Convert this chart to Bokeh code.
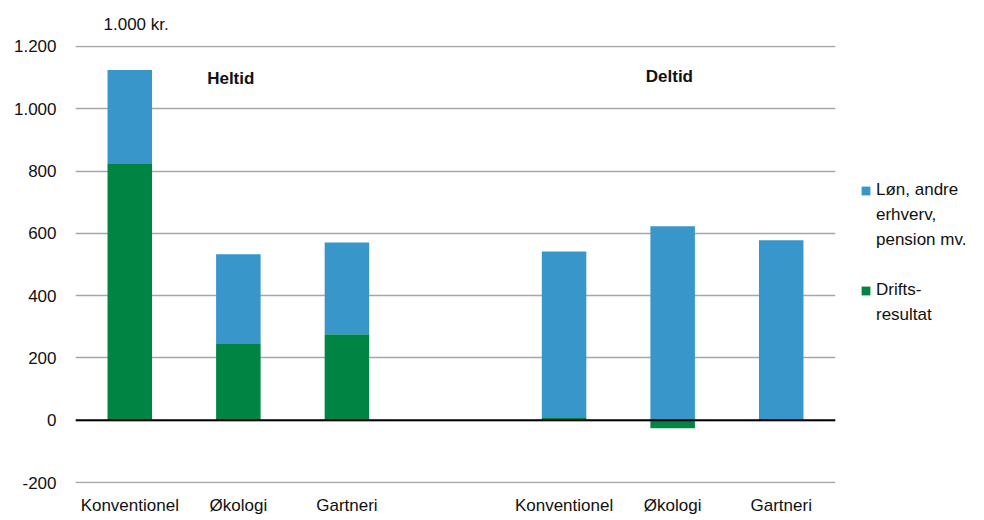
from bokeh.plotting import figure
from bokeh.models import (Range1d, FixedTicker, CustomJSTickFormatter, Label, Legend,
                          LegendItem, Span, ColumnDataSource, Title)
from bokeh.embed import file_html
from bokeh.resources import INLINE

# ---- data ----
groups = ["Heltid", "Heltid", "Heltid", "", "Deltid", "Deltid", "Deltid"]
categories = ["Konventionel", "Økologi", "Gartneri", "", "Konventionel", "Økologi", "Gartneri"]
drift = [825, 247, 276, None, 10, -26, 3]
loen = [299, 286, 295, None, 532, 623, 575]
series_lines = [["Løn, andre", "erhverv,", "pension mv."], ["Drifts-", "resultat"]]
y_ticks = [-200, 0, 200, 400, 600, 800, 1000, 1200]
unit_label = "1.000 kr."

BLUE = "#3996CA"
GREEN = "#008444"
FONT = "Liberation Sans"
TXT = "#111111"

idx = [i for i, c in enumerate(categories) if c]
g_top = [drift[i] for i in idx]
b_bottom = [max(drift[i], 0) for i in idx]
b_top = [max(drift[i], 0) + loen[i] for i in idx]

src = ColumnDataSource(dict(x=idx, g_top=g_top, g_bottom=[0] * len(idx),
                            b_bottom=b_bottom, b_top=b_top))

p = figure(frame_width=760, frame_height=438, output_backend="svg", toolbar_location=None,
           x_range=Range1d(-0.5, len(categories) - 0.5),
           y_range=Range1d(min(y_ticks) - 3, max(y_ticks) + 3),
           min_border_left=75, min_border_right=133, min_border_top=45, min_border_bottom=28)
p.outline_line_color = None
p.background_fill_color = "white"

t = Title(text=unit_label, align="left", offset=28, standoff=24,
          text_font=FONT, text_font_size="17px", text_font_style="normal", text_color=TXT)
p.add_layout(t, "above")

bw = 0.41
rg = p.vbar(x="x", bottom="g_bottom", top="g_top", width=bw, source=src,
            fill_color=GREEN, line_color=None)
rb = p.vbar(x="x", bottom="b_bottom", top="b_top", width=bw, source=src,
            fill_color=BLUE, line_color=None)
# invisible renderer used for continuation lines of the legend labels
rinv = p.vbar(x="x", bottom="g_bottom", top="g_bottom", width=bw, source=src,
              fill_alpha=0, line_alpha=0)

# axes
p.xaxis.ticker = FixedTicker(ticks=idx)
p.xaxis.major_label_overrides = {i: categories[i] for i in idx}
p.xaxis.axis_line_color = None
p.xaxis.major_tick_line_color = None
p.xaxis.minor_tick_line_color = None
p.xaxis.major_label_text_font = FONT
p.xaxis.major_label_text_font_size = "17px"
p.xaxis.major_label_text_color = TXT
p.xaxis.major_label_standoff = 6

p.yaxis.ticker = FixedTicker(ticks=y_ticks)
p.yaxis.formatter = CustomJSTickFormatter(
    code="return tick.toFixed(0).replace(/\\B(?=(\\d{3})+(?!\\d))/g, '.');")
p.yaxis.axis_line_color = None
p.yaxis.major_tick_line_color = None
p.yaxis.minor_tick_line_color = None
p.yaxis.major_label_text_font = FONT
p.yaxis.major_label_text_font_size = "17px"
p.yaxis.major_label_text_color = TXT
p.yaxis.major_label_standoff = 13

p.xgrid.grid_line_color = None
p.ygrid.grid_line_color = "#A6A6A6"
p.ygrid.grid_line_width = 1.5

p.add_layout(Span(location=0, dimension="width", line_color="black", line_width=2))

# group labels
p.add_layout(Label(x=0.93, y=1098, text="Heltid", text_font=FONT, text_font_size="17px",
                   text_font_style="bold", text_align="center", text_baseline="middle",
                   text_color=TXT))
p.add_layout(Label(x=4.97, y=1104, text="Deltid", text_font=FONT, text_font_size="17px",
                   text_font_style="bold", text_align="center", text_baseline="middle",
                   text_color=TXT))

items = []
for k, (lines, r) in enumerate(zip(series_lines, [rb, rg])):
    if k > 0:
        items.append(LegendItem(label=" ", renderers=[rinv]))
    items.append(LegendItem(label=lines[0], renderers=[r]))
    for ln in lines[1:]:
        items.append(LegendItem(label=ln, renderers=[rinv]))

legend = Legend(items=items, location=(25, 158))
legend.border_line_alpha = 0
legend.background_fill_alpha = 0
legend.padding = 0
legend.margin = 0
legend.spacing = 5
legend.label_height = 20
legend.glyph_width = 11
legend.glyph_height = 11
legend.label_standoff = 5
legend.label_text_font = FONT
legend.label_text_font_size = "17px"
legend.label_text_color = TXT
p.add_layout(legend, "right")

open("out.html", "w").write(file_html(p, INLINE))
